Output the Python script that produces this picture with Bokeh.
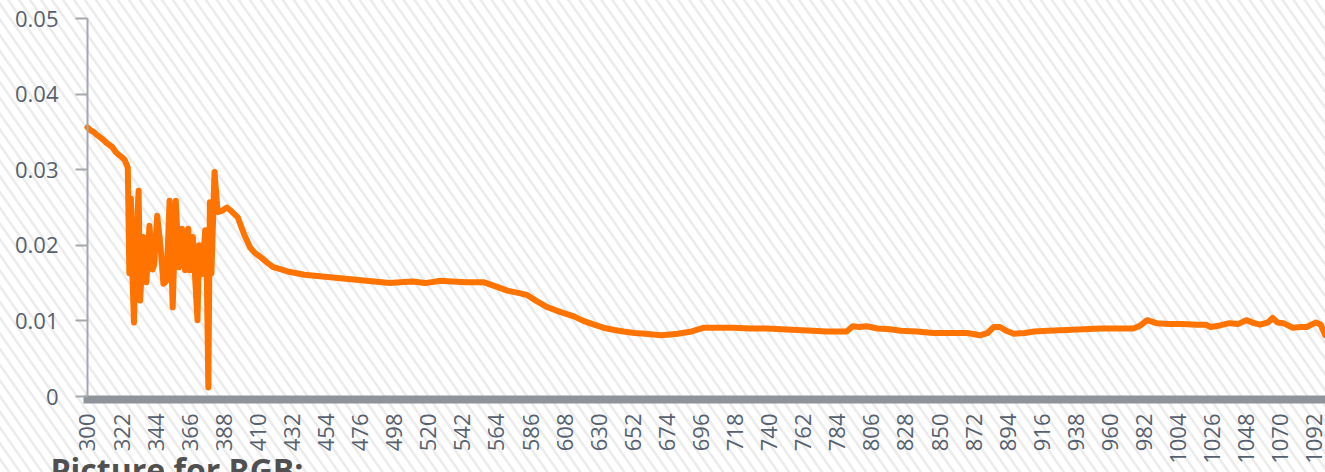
import math
from bokeh.plotting import figure
from bokeh.models import FixedTicker, CustomJSTickFormatter, Label
from bokeh.embed import file_html
from bokeh.resources import INLINE

wavelength = [300, 302, 304, 306, 308, 310, 312, 314, 316, 318, 320, 322, 324, 325, 326,
              327, 328, 329, 330, 331, 333, 334, 336, 338, 340, 342, 343, 345, 347, 349,
              351, 353, 355, 357, 359, 361, 363, 365, 366, 368, 371, 372, 374, 376, 377,
              378, 379, 380, 382, 384, 387, 390, 393, 397, 401, 405, 408, 412, 416, 420,
              425, 430, 435, 440, 445, 450, 455, 460, 465, 470, 475, 480, 485, 490, 495,
              502, 510, 518, 528, 535, 545, 556, 563, 571, 578, 584, 590, 597, 605, 614,
              620, 627, 633, 640, 646, 653, 660, 670, 676, 681, 690, 698, 707, 717, 728,
              739, 748, 758, 768, 777, 784, 790, 794, 798, 803, 810, 818, 825, 835, 846,
              857, 868, 876, 881, 885, 889, 893, 898, 905, 911, 920, 932, 943, 954, 965,
              975, 979, 984, 990, 998, 1007, 1016, 1022, 1025, 1031, 1037, 1043, 1048, 1053, 1057,
              1062, 1065, 1068, 1072, 1078, 1083, 1087, 1093, 1096, 1099]
values = [0.0356, 0.0352, 0.0350, 0.0346, 0.0343, 0.0340, 0.0336, 0.0333, 0.0330, 0.0324, 0.0320, 0.0317, 0.0313, 0.0308, 0.0303,
          0.0163, 0.0262, 0.0160, 0.0098, 0.0190, 0.0272, 0.0127, 0.0211, 0.0151, 0.0226, 0.0168, 0.0174, 0.0239, 0.0202, 0.0149,
          0.0153, 0.0259, 0.0118, 0.0259, 0.0171, 0.0222, 0.0167, 0.0222, 0.0167, 0.0211, 0.0101, 0.0200, 0.0162, 0.0220, 0.0163,
          0.0012, 0.0257, 0.0163, 0.0297, 0.0244, 0.0246, 0.0250, 0.0245, 0.0237, 0.0215, 0.0197, 0.0190, 0.0184, 0.0177, 0.0171,
          0.0168, 0.0165, 0.0163, 0.0161, 0.0160, 0.0159, 0.0158, 0.0157, 0.0156, 0.0155, 0.0154, 0.0153, 0.0152, 0.0151, 0.0150,
          0.0151, 0.0152, 0.0150, 0.0153, 0.0152, 0.0151, 0.0151, 0.0146, 0.0140, 0.0137, 0.0134, 0.0126, 0.0118, 0.0112, 0.0106,
          0.0100, 0.0095, 0.0091, 0.0088, 0.0086, 0.0084, 0.0083, 0.0081, 0.0082, 0.0083, 0.0086, 0.0091, 0.0091, 0.0091, 0.0090,
          0.0090, 0.0089, 0.0088, 0.0087, 0.0086, 0.0086, 0.0086, 0.0093, 0.0092, 0.0093, 0.0090, 0.0089, 0.0087, 0.0086, 0.0084,
          0.0084, 0.0084, 0.0081, 0.0084, 0.0092, 0.0092, 0.0087, 0.0083, 0.0084, 0.0086, 0.0087, 0.0088, 0.0089, 0.0090, 0.0090,
          0.0090, 0.0093, 0.0101, 0.0097, 0.0096, 0.0096, 0.0095, 0.0095, 0.0092, 0.0094, 0.0097, 0.0096, 0.0101, 0.0097, 0.0095,
          0.0098, 0.0104, 0.0098, 0.0097, 0.0091, 0.0092, 0.0092, 0.0098, 0.0095, 0.0081]

x_ticks = list(range(300, 1100, 22))
y_ticks = [0, 0.01, 0.02, 0.03, 0.04, 0.05]
caption = "Picture for RGB:"

W, H = 1325, 472
px_per_x = 1.5492          # pixels per nm
px_per_y = 7560.0          # pixels per unit of value
x0 = 300 - 87 / px_per_x
x1 = x0 + W / px_per_x
y1 = 0.05 + 18 / px_per_y
y0 = -(H - 396) / px_per_y

p = figure(width=W, height=H, output_backend="svg", toolbar_location=None,
           x_range=(x0, x1), y_range=(y0, y1))
p.min_border = 0
p.min_border_left = 0
p.min_border_right = 0
p.min_border_top = 0
p.min_border_bottom = 0
p.border_fill_alpha = 0
p.background_fill_alpha = 0
p.outline_line_color = None
p.grid.visible = False
p.styles = {"background-image": "repeating-linear-gradient(55deg, #ffffff 0px, #ffffff 5.8px, #ececec 6.4px, #ececec 8.4px, #ffffff 9.0px)"}

p.line(wavelength, values, line_color="#ff7400", line_width=6, line_join="round", line_cap="round")

label_color = "#56616f"
p.xaxis.fixed_location = -0.0004
p.xaxis.bounds = (297.4, x1 + 5)
p.xaxis.ticker = FixedTicker(ticks=x_ticks)
p.xaxis.axis_line_color = "#8f949b"
p.xaxis.axis_line_width = 8
p.xaxis.major_tick_line_color = None
p.xaxis.minor_tick_line_color = None
p.xaxis.major_label_orientation = math.pi / 2
p.xaxis.major_label_standoff = 8
p.xaxis.major_label_text_font = "Open Sans"
p.xaxis.major_label_text_font_size = "22px"
p.xaxis.major_label_text_color = label_color

p.yaxis.fixed_location = 300
p.yaxis.bounds = (0, 0.05)
p.yaxis.ticker = FixedTicker(ticks=y_ticks)
p.yaxis.formatter = CustomJSTickFormatter(code="return tick === 0 ? '0' : tick.toFixed(2);")
p.yaxis.axis_line_color = "#a4a8ae"
p.yaxis.axis_line_width = 2
p.yaxis.major_tick_line_color = "#a4a8ae"
p.yaxis.major_tick_line_width = 2
p.yaxis.major_tick_out = 12
p.yaxis.major_tick_in = 0
p.yaxis.minor_tick_line_color = None
p.yaxis.major_label_standoff = 17
p.yaxis.major_label_text_font = "Open Sans"
p.yaxis.major_label_text_font_size = "22px"
p.yaxis.major_label_text_color = label_color

lbl = Label(x=50, y=3, x_units="screen", y_units="screen", text=caption,
            text_font="Open Sans", text_font_style="bold",
            text_font_size="32px", text_color="#505050", text_baseline="alphabetic", text_align="left")
p.add_layout(lbl)

open("out.html", "w").write(file_html(p, INLINE))
